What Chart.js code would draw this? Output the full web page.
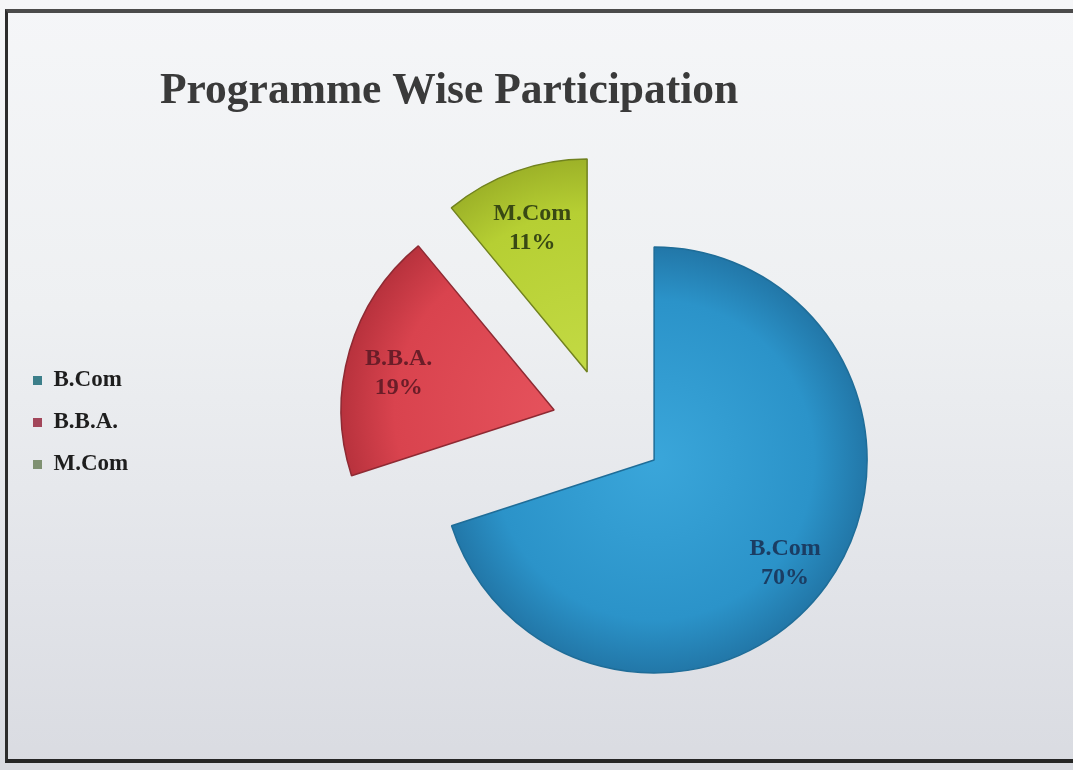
<!DOCTYPE html>
<html>
<head>
<meta charset="utf-8">
<title>Programme Wise Participation</title>
<script src="https://cdn.jsdelivr.net/npm/chart.js@4/dist/chart.umd.min.js"></script>
<style>
html, body { margin: 0; padding: 0; width: 1073px; height: 770px; overflow: hidden; }
body { position: relative; background: linear-gradient(180deg, #f5f6f8 0%, #eef0f2 40%, #e2e4e9 75%, #d9dbe1 100%); }
#frame { position: absolute; left: 5px; top: 9px; width: 1090px; height: 746px;
  border-top: 4px solid #4b4b4b; border-left: 3px solid #2c2c2c; border-bottom: 4px solid #262626; }
#wrap { position: absolute; left: 0; top: 0; }
</style>
</head>
<body>
<div id="frame"></div>
<div id="wrap"><canvas id="myChart" width="1170" height="770"></canvas></div>
<script>
var chartTitle = 'Programme Wise Participation';
var programmes = ['B.Com', 'B.B.A.', 'M.Com'];
var shares = [70, 19, 11];

// styles
var PIE_RADIUS = 213;
var baseColors = ['#2b93c9', '#d9434e', '#b6cf33'];
var lightColors = ['#3aa6da', '#e5525c', '#c3da44'];
var darkColors = ['#2277a8', '#b8323d', '#9db228'];
var borderColors = ['#1f6d98', '#8e2a33', '#71821f'];
var legendColors = ['#3c7f8a', '#a2465a', '#7f9172'];
var labelColors = ['#1b3d63', '#6a1d28', '#394914'];
// explode shift of the two small slices (px)
var explode = [[0, 0], [-100, -50], [-67, -88]];
var serif = '"Liberation Serif", "Times New Roman", serif';

function sliceFill(c) {
	var chart = c.chart, area = chart.chartArea, i = c.dataIndex;
	if (!area) return baseColors[i];
	var cx = (area.left + area.right) / 2 + explode[i][0];
	var cy = (area.top + area.bottom) / 2 + explode[i][1];
	var g = chart.ctx.createRadialGradient(cx, cy, 0, cx, cy, PIE_RADIUS);
	g.addColorStop(0, lightColors[i]);
	g.addColorStop(0.75, baseColors[i]);
	g.addColorStop(1, darkColors[i]);
	return g;
}

var explodePlugin = {
	id: 'explode',
	afterDatasetUpdate: function(chart, args) {
		args.meta.data.forEach(function(arc, i) {
			arc.x += explode[i][0];
			arc.y += explode[i][1];
		});
	}
};

var sliceLabels = {
	id: 'sliceLabels',
	afterDatasetsDraw: function(chart) {
		var ctx = chart.ctx;
		var meta = chart.getDatasetMeta(0);
		ctx.save();
		ctx.font = 'bold 24px ' + serif;
		ctx.textAlign = 'center';
		ctx.textBaseline = 'middle';
		meta.data.forEach(function(arc, i) {
			var mid = (arc.startAngle + arc.endAngle) / 2;
			var r = arc.outerRadius * 0.76;
			var x = arc.x + Math.cos(mid) * r;
			var y = arc.y + Math.sin(mid) * r + 8;
			ctx.fillStyle = labelColors[i];
			ctx.fillText(programmes[i], x, y - 14);
			ctx.fillText(shares[i] + '%', x, y + 15);
		});
		ctx.restore();
	}
};

var titlePlugin = {
	id: 'slideTitle',
	afterDraw: function(chart) {
		var ctx = chart.ctx;
		ctx.save();
		ctx.font = 'bold 43.5px ' + serif;
		ctx.fillStyle = '#3a3a3a';
		ctx.textAlign = 'left';
		ctx.textBaseline = 'alphabetic';
		ctx.fillText(chartTitle, 160, 103);
		ctx.restore();
	}
};

new Chart(document.getElementById('myChart'), {
	type: 'pie',
	data: {
		labels: programmes,
		datasets: [{
			data: shares,
			backgroundColor: sliceFill,
			borderColor: borderColors,
			borderWidth: 1.5,
			radius: PIE_RADIUS,
			clip: false
		}]
	},
	options: {
		responsive: false,
		animation: false,
		events: [],
		layout: { padding: { left: 14, top: 350, bottom: 200, right: 0 } },
		plugins: {
			tooltip: { enabled: false },
			legend: {
				position: 'left',
				align: 'start',
				labels: {
					boxWidth: 9,
					boxHeight: 9,
					padding: 19,
					color: '#1e1e1e',
					font: { family: serif, size: 23, weight: 'bold' },
					generateLabels: function(chart) {
						var items = Chart.overrides.doughnut.plugins.legend.labels.generateLabels(chart);
						items.forEach(function(it, i) {
							it.fillStyle = legendColors[i];
							it.strokeStyle = legendColors[i];
							it.lineWidth = 0;
						});
						return items;
					}
				}
			}
		}
	},
	plugins: [explodePlugin, sliceLabels, titlePlugin]
});
</script>
</body>
</html>
